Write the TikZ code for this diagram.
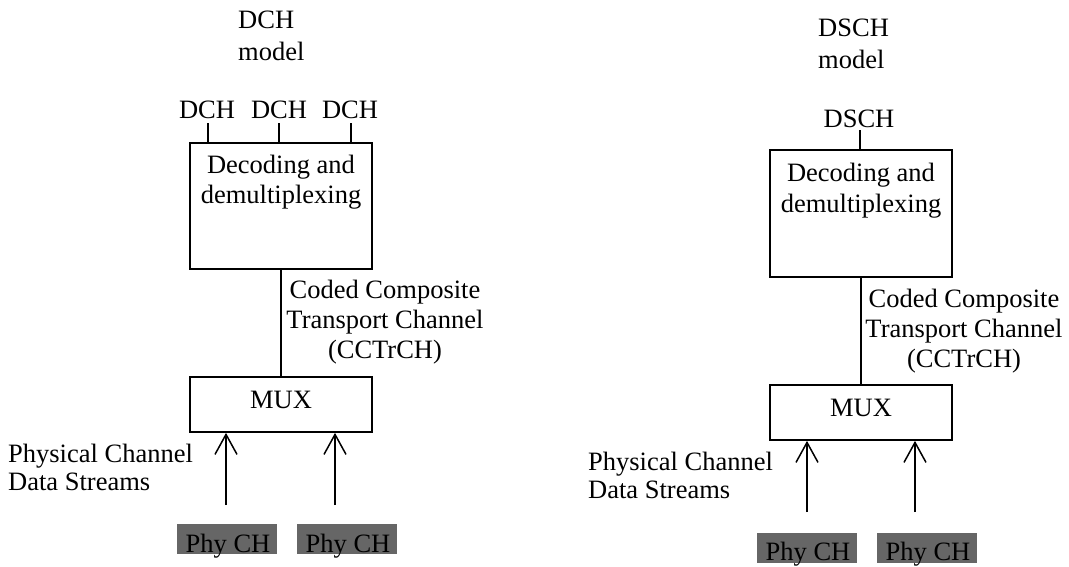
\documentclass[tikz,border=0pt]{standalone}
\usepackage{fontspec}
\setmainfont{Liberation Serif}
\usetikzlibrary{arrows.meta}
\tikzset{
  txt/.style={inner sep=0pt, anchor=base},
  txtl/.style={inner sep=0pt, anchor=base west},
  chlabel/.style={inner sep=0pt, anchor=base, outer sep=0pt},
  procbox/.style={draw, line width=1.7pt, inner sep=0pt, minimum width=182pt},
  phybox/.style={fill=black!60, inner sep=0pt, minimum width=100pt, minimum height=30pt},
  link/.style={line width=1.4pt},
  arr/.style={line width=1.5pt, -{Straight Barb[length=20pt,width=22pt,line width=1.5pt]}},
}
\begin{document}
\begin{tikzpicture}[x=1pt,y=-1pt,font=\fontsize{26.5}{30.5}\selectfont]
\useasboundingbox (0,0) rectangle (1069,566);

% ---------- left: DCH model ----------
\node[txtl] (ltitle1) at (238,28) {DCH};
\node[txtl] (ltitle2) at (238,60) {model};

\node[chlabel] (ld1) at (207,118) {DCH};
\node[chlabel] (ld2) at (279,118) {DCH};
\node[chlabel] (ld3) at (350,118) {DCH};

\node[procbox, minimum height=126pt] (ldec) at (281,206) {};
\node[txt] (ldect1) at (281,173) {Decoding and};
\node[txt] (ldect2) at (281,203) {demultiplexing};

\coordinate (lt1) at (208,123);
\coordinate (lt2) at (279,123);
\coordinate (lt3) at (351,123);
\draw[link] (lt1) -- (lt1 |- ldec.north);
\draw[link] (lt2) -- (lt2 |- ldec.north);
\draw[link] (lt3) -- (lt3 |- ldec.north);

\node[procbox, minimum height=55pt] (lmux) at (281,404.5) {};
\node[txt] (lmuxt) at (281,408) {MUX};

\draw[link] (ldec.south) -- (lmux.north);

\node[txt] (lc1) at (385,298) {Coded Composite};
\node[txt] (lc2) at (385,328) {Transport Channel};
\node[txt] (lc3) at (385,358) {(CCTrCH)};

\node[txtl] (lpc1) at (8,462) {Physical Channel};
\node[txtl] (lpc2) at (8,490) {Data Streams};

\coordinate (la1) at (226,505);
\coordinate (la2) at (335,505);
\draw[arr] (la1) -- (la1 |- lmux.south);
\draw[arr] (la2) -- (la2 |- lmux.south);

\node[phybox] (lp1) at (227,539) {};
\node[phybox] (lp2) at (347,539) {};
\node[txt] (lp1t) at (228,552) {Phy CH};
\node[txt] (lp2t) at (348,552) {Phy CH};

% ---------- right: DSCH model ----------
\begin{scope}[shift={(580,8)}]
\node[txtl] (rtitle1) at (238,28) {DSCH};
\node[txtl] (rtitle2) at (238,60) {model};

\node[chlabel] (rd1) at (279,119) {DSCH};

\node[procbox, minimum height=127pt] (rdec) at (281,205.5) {};
\node[txt] (rdect1) at (281,173) {Decoding and};
\node[txt] (rdect2) at (281,204) {demultiplexing};

\coordinate (rt1) at (280,122);
\draw[link] (rt1) -- (rt1 |- rdec.north);

\node[procbox, minimum height=55pt] (rmux) at (281,404.5) {};
\node[txt] (rmuxt) at (281,408) {MUX};

\draw[link] (rdec.south) -- (rmux.north);

\node[txt] (rc1) at (384,299) {Coded Composite};
\node[txt] (rc2) at (384,329) {Transport Channel};
\node[txt] (rc3) at (384,359) {(CCTrCH)};

\node[txtl] (rpc1) at (8,462) {Physical Channel};
\node[txtl] (rpc2) at (8,490) {Data Streams};

\coordinate (ra1) at (227,504);
\coordinate (ra2) at (335,504);
\draw[arr] (ra1) -- (ra1 |- rmux.south);
\draw[arr] (ra2) -- (ra2 |- rmux.south);

\node[phybox] (rp1) at (227,539.5) {};
\node[phybox] (rp2) at (347,539.5) {};
\node[txt] (rp1t) at (228,552.5) {Phy CH};
\node[txt] (rp2t) at (348,552.5) {Phy CH};
\end{scope}
\end{tikzpicture}
\end{document}
